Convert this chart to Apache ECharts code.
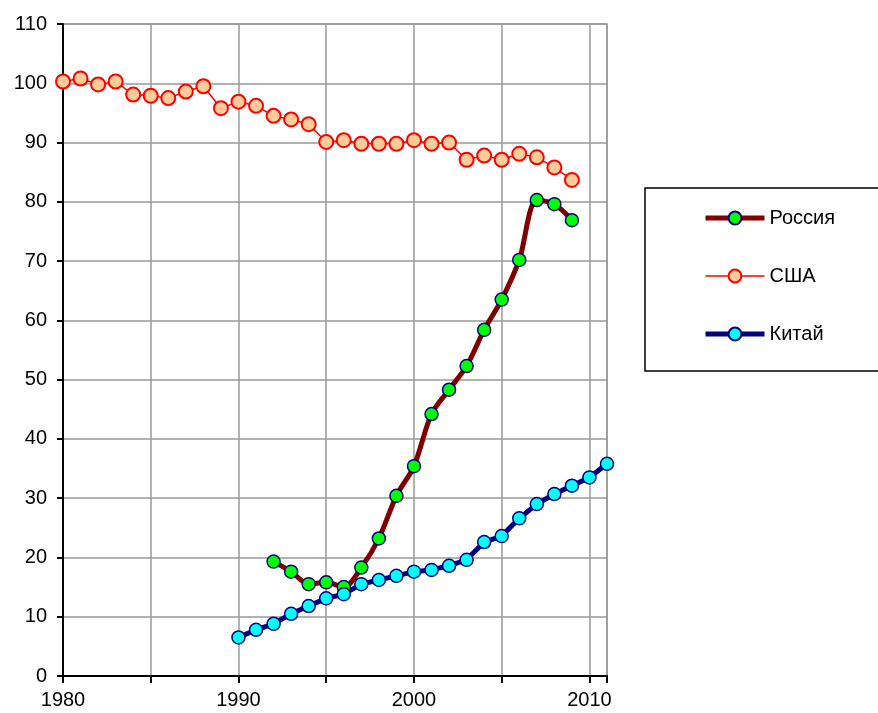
<!DOCTYPE html>
<html>
<head>
<meta charset="utf-8">
<script src="https://cdn.jsdelivr.net/npm/echarts@6/dist/echarts.min.js"></script>
<style>html,body{margin:0;padding:0;background:#fff}#c{width:878px;height:713px}</style>
</head>
<body>
<div id="c"></div>
<script>
var seriesNames = ['Россия', 'США', 'Китай'];
var usaYears = [1980,1981,1982,1983,1984,1985,1986,1987,1988,1989,1990,1991,1992,1993,1994,1995,1996,1997,1998,1999,2000,2001,2002,2003,2004,2005,2006,2007,2008,2009];
var usaValues = [100.3,100.8,99.8,100.3,98.1,97.9,97.5,98.6,99.5,95.8,96.9,96.2,94.5,93.9,93.1,90.1,90.4,89.8,89.8,89.8,90.4,89.8,90.0,87.1,87.8,87.1,88.1,87.5,85.8,83.7];
var russiaYears = [1992,1993,1994,1995,1996,1997,1998,1999,2000,2001,2002,2003,2004,2005,2006,2007,2008,2009];
var russiaValues = [19.3,17.6,15.5,15.8,15.0,18.3,23.2,30.4,35.4,44.2,48.3,52.3,58.4,63.5,70.2,80.3,79.6,76.9];
var chinaYears = [1990,1991,1992,1993,1994,1995,1996,1997,1998,1999,2000,2001,2002,2003,2004,2005,2006,2007,2008,2009,2010,2011];
var chinaValues = [6.5,7.8,8.8,10.5,11.8,13.1,13.8,15.5,16.2,16.9,17.6,17.9,18.6,19.6,22.6,23.6,26.6,29.0,30.7,32.1,33.5,35.8];

function pairs(xs, ys){ return xs.map(function(x,i){ return [x, ys[i]]; }); }

var font = 'Liberation Sans';
var chart = echarts.init(document.getElementById('c'), null, {renderer:'canvas'});
chart.setOption({
  animation: false,
  backgroundColor: '#fff',
  grid: {left: 63, top: 24, right: 271, bottom: 37, show: true, borderColor: '#999', borderWidth: 1.5, backgroundColor: 'transparent'},
  xAxis: {
    type: 'value', min: 1980, max: 2011, interval: 5,
    axisLine: {lineStyle: {color: '#000', width: 2}},
    axisTick: {show: true, length: 7, lineStyle: {color: '#000', width: 2}},
    axisLabel: {fontFamily: font, fontSize: 20, color: '#000', margin: 14,
      formatter: function(v){ return v % 10 === 0 ? String(v) : ''; }},
    splitLine: {show: true, lineStyle: {color: '#999', width: 1.5}}
  },
  yAxis: {
    type: 'value', min: 0, max: 110, interval: 10,
    axisLine: {show: true, lineStyle: {color: '#000', width: 2}},
    axisTick: {show: true, length: 6, lineStyle: {color: '#000', width: 2}},
    axisLabel: {fontFamily: font, fontSize: 20, color: '#000', margin: 16},
    splitLine: {show: true, lineStyle: {color: '#999', width: 1.5}}
  },
  legend: {
    data: [
      {name: seriesNames[0], lineStyle: {width: 5, color: '#800000'}},
      {name: seriesNames[1], lineStyle: {width: 1.5, color: '#ff0000'}},
      {name: seriesNames[2], lineStyle: {width: 5, color: '#000080'}}
    ],
    orient: 'vertical', left: 703, top: 208, padding: 0,
    itemWidth: 59, itemHeight: 16, itemGap: 38,
    textStyle: {fontFamily: font, fontSize: 20, color: '#000', lineHeight: 20}
  },
  graphic: [{
    type: 'rect', shape: {x: 645, y: 188, width: 240, height: 183},
    style: {fill: 'none', stroke: '#000', lineWidth: 1.5}, z: 100
  }],
  series: [
    {name: seriesNames[0], type: 'line', data: pairs(russiaYears, russiaValues), smooth: 0.3,
     symbol: 'circle', symbolSize: 13,
     lineStyle: {color: '#800000', width: 5},
     itemStyle: {color: '#00ff00', borderColor: '#000080', borderWidth: 1.5}},
    {name: seriesNames[1], type: 'line', data: pairs(usaYears, usaValues),
     symbol: 'circle', symbolSize: 14,
     lineStyle: {color: '#ff0000', width: 1.5},
     itemStyle: {color: '#ffcc99', borderColor: '#ff0000', borderWidth: 2}},
    {name: seriesNames[2], type: 'line', data: pairs(chinaYears, chinaValues),
     symbol: 'circle', symbolSize: 13,
     lineStyle: {color: '#000080', width: 5},
     itemStyle: {color: '#00ffff', borderColor: '#000080', borderWidth: 1.5}}
  ]
});
</script>
</body>
</html>
